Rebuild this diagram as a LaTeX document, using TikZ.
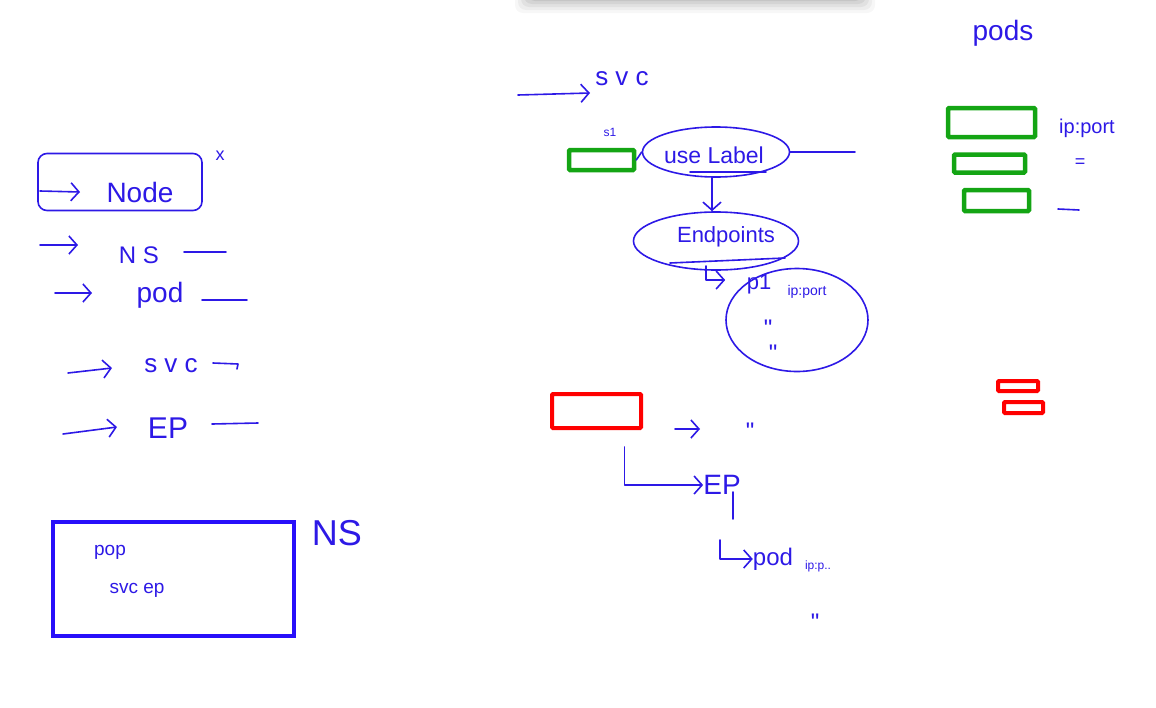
\documentclass[tikz,border=0pt]{standalone}
\usepackage{fontspec}
\setmainfont{Liberation Sans}
\newfontfamily\plainf{Liberation Sans}
\usetikzlibrary{arrows.meta,shapes.geometric}
\definecolor{ink}{RGB}{45,25,230}
\definecolor{boxblue}{RGB}{40,15,250}
\definecolor{pgreen}{RGB}{20,165,20}
\definecolor{pred}{RGB}{255,0,0}
\newcommand{\fs}[1]{\fontsize{#1}{#1}\selectfont}
\newcommand{\ditto}{\plainf\fs{24}\char"22}
\tikzset{
  pen/.style={draw=ink, line width=1.6pt, line cap=round, line join=round},
  arr/.style={pen, -{Straight Barb[length=8pt,width=18pt]}},
  txt/.style={text=ink, inner sep=0pt, anchor=center},
  gbox/.style={draw=pgreen, line width=4.5pt, rounded corners=1pt, inner sep=0pt},
  rbox/.style={draw=pred, line width=4pt, rounded corners=1pt, inner sep=0pt},
  ell/.style={pen, ellipse, inner sep=0pt},
}
\begin{document}
\begin{tikzpicture}[x=1pt,y=-1pt]
\useasboundingbox (0,0) rectangle (1156,707);
% top shadow of a panel
\foreach \i/\o in {0/0.03,3/0.04,6/0.05,9/0.06,12/0.07}
  \fill[black, opacity=\o, rounded corners=8pt] (515+\i,-10) rectangle (875-\i,13-\i);

% ---------------- left list ----------------
\node[pen, rounded corners=9pt, minimum width=164pt, minimum height=57pt] (nodebox) at (120,182) {};
\node[txt] (nodet) at (140,192) {\fs{28}Node};
\node[txt] (xmark) at (220,156) {\fs{18}x};
\coordinate (a0) at (40,191);
\draw[arr] (a0) -- (nodet.west -| 80,191);

\node[txt] (ns) at (139,255) {\fs{24}N S};
\coordinate (a1) at (40,245); \coordinate (a1e) at (78,245);
\draw[arr] (a1) -- (a1e);
\coordinate (l1s) at (184,252); \coordinate (l1e) at (226,252);
\draw[pen] (l1s) -- (l1e);

\node[txt] (pod) at (160,295) {\fs{28}pod};
\coordinate (a2) at (55,293); \coordinate (a2e) at (92,293);
\draw[arr] (a2) -- (a2e);
\coordinate (l2s) at (202,300); \coordinate (l2e) at (247,300);
\draw[pen] (l2s) -- (l2e);

\node[txt] (svcl) at (171,366) {\fs{26}s v c};
\coordinate (a3) at (68,373); \coordinate (a3e) at (112,368);
\draw[arr] (a3) -- (a3e);
\coordinate (l3s) at (213,363); \coordinate (l3e) at (238,364);
\draw[pen] (l3s) -- (l3e) -- ++(-1,5);

\node[txt] (epl) at (168,428) {\fs{30}EP};
\coordinate (a4) at (63,434); \coordinate (a4e) at (117,427);
\draw[arr] (a4) -- (a4e);
\coordinate (l4s) at (212,424); \coordinate (l4e) at (258,423);
\draw[pen] (l4s) -- (l4e);

% ---------------- NS box ----------------
\node[draw=boxblue, line width=4.5pt, minimum width=241pt, minimum height=114pt, inner sep=0pt] (nsbox) at (173.5,579) {};
\node[txt] (nsbig) at (337,533) {\fs{36}NS};
\node[txt] (pop) at (110,552) {\fs{19}pop};
\node[txt] (svcep) at (137,590) {\fs{19}svc ep};

% ---------------- middle ----------------
\node[txt] (svct) at (622,79) {\fs{26}s v c};
\coordinate (m0) at (518,95); \coordinate (m0e) at (590,93);
\draw[arr] (m0) -- (m0e);

\node[txt] (s1) at (610,132) {\fs{12}s1};
\node[gbox, minimum width=65pt, minimum height=20pt] (s1box) at (601.5,160) {};

\node[ell, minimum width=147pt, minimum height=50pt] (uselabel) at (716,152) {};
\node[txt] (ult) at (714,155) {\fs{23}use Label};
\draw[pen] (s1box.east) -- (uselabel.west);
\coordinate (ulr) at (855,152);
\draw[pen] (uselabel.east) -- (ulr);
\coordinate (ul1) at (690,172); \coordinate (ul2) at (766,172);
\draw[pen] (ul1) -- (ul2);

\node[ell, minimum width=165pt, minimum height=58pt] (endp) at (716,241) {};
\node[txt] (endt) at (726,237) {\fs{22}Endpoints};
\draw[arr] (uselabel.south -| 712,0) -- (endp.north -| 712,0);
\coordinate (eu1) at (670,263); \coordinate (eu2) at (785,258);
\draw[pen] (eu1) -- (eu2);

\node[ell, minimum width=142pt, minimum height=103pt] (p1ell) at (797,320) {};
\node[txt] (p1) at (759,284) {\fs{22}p1};
\node[txt] (p1ip) at (807,292) {\fs{14}ip:port};
\node[txt] (q1) at (768,328) {\ditto};
\node[txt] (q2) at (773,353) {\ditto};
\coordinate (h1) at (706,266);
\draw[arr] (h1) |- (p1ell.west |- 0,280);

% red box area
\node[rbox, minimum width=89pt, minimum height=34pt] (redbox) at (596.5,411) {};
\coordinate (r1) at (675,429); \coordinate (r1e) at (700,429);
\draw[arr] (r1) -- (r1e);
\node[txt] (q3) at (750,431) {\ditto};
\node[txt] (epm) at (722,485) {\fs{28}EP};
\draw[arr] ([xshift=28pt,yshift=-17pt]redbox.south) |- (epm.west);
\coordinate (epst) at (733,519);
\draw[pen] (733,492) -- (epst);
\node[txt] (podm) at (773,559) {\fs{24}pod};
\node[txt] (podip) at (818,566) {\fs{12}ip:p..};
\coordinate (lp) at (720,540);
\draw[arr] (lp) |- (podm.west);
\node[txt] (q4) at (815,622) {\ditto};

% ---------------- right ----------------
\node[txt] (pods) at (1003,33) {\fs{28}pods};
\node[gbox, minimum width=87pt, minimum height=29pt] (g1) at (991.5,122.5) {};
\node[gbox, minimum width=71pt, minimum height=18pt] (g2) at (989.5,163.5) {};
\node[gbox, minimum width=65pt, minimum height=21pt] (g3) at (996.5,200.5) {};
\node[txt] (ipport) at (1087,128) {\fs{20}ip:port};
\node[txt] (eq) at (1080,163) {\fs{18}=};
\coordinate (d1) at (1058,209); \coordinate (d2) at (1079,210);
\draw[pen] (d1) -- (d2);
\node[rbox, minimum width=40pt, minimum height=10pt] (rb1) at (1018,386) {};
\node[rbox, minimum width=39pt, minimum height=11pt] (rb2) at (1023.5,407.5) {};
\end{tikzpicture}
\end{document}
